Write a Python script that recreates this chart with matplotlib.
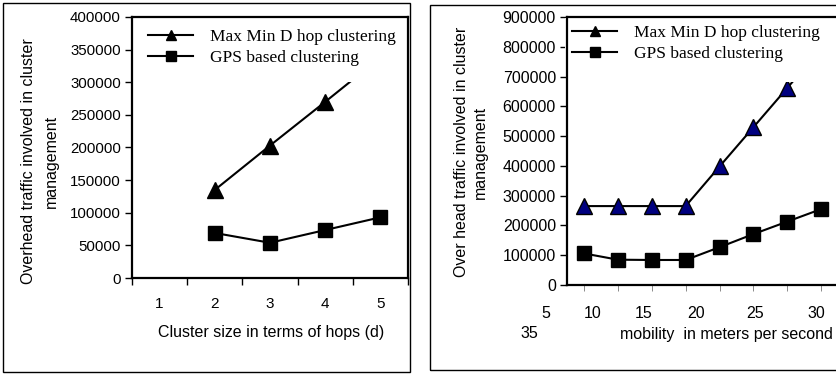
# two excel-style charts: cluster overhead vs hops and vs mobility
import numpy as np
import matplotlib.pyplot as plt
from matplotlib.patches import Rectangle

plt.rcParams['font.family'] = ['Liberation Sans', 'DejaVu Sans']

# left chart data (cluster size in hops)
hops = [1, 2, 3, 4, 5]
hop_maxmin = [np.nan, 135000, 203000, 270000, 338000]
hop_gps = [np.nan, 69000, 54000, 73500, 93000]

# right chart data (mobility categories)
mob_pos = [1, 2, 3, 4, 5, 6, 7, 8]
mob_maxmin = [265000, 265000, 265000, 265000, 398000, 530000, 662000, 795000]
mob_gps = [106000, 85000, 84000, 84000, 127000, 171000, 213000, 255000]

legend_labels = ["Max Min D hop clustering", "GPS based clustering"]
right_xwords = ["5", "10", "15", "20", "25", "30", "35"]

W, H = 836, 377
fig = plt.figure(figsize=(W / 100, H / 100), dpi=100)


def fx(px):
    return px / W


def fy(py):
    return 1 - py / H


# outer frames
fig.patches.append(Rectangle((fx(3), fy(372)), fx(407), (369) / H, transform=fig.transFigure,
                             fill=False, edgecolor='black', linewidth=1.0))
fig.patches.append(Rectangle((fx(430), fy(370)), fx(420), (365) / H, transform=fig.transFigure,
                             fill=False, edgecolor='black', linewidth=1.0))

serif = ['Liberation Serif', 'DejaVu Serif']
leg_kw = dict(loc='upper left', prop={'family': serif, 'size': 12.5}, frameon=True,
              facecolor='white', edgecolor='none', framealpha=1, handlelength=2.6,
              handletextpad=1.0, markerscale=0.7, borderpad=0.4, labelspacing=0.3,
              borderaxespad=0, fancybox=False)

# ---- left chart
ax1 = fig.add_axes([fx(132), fy(278), fx(276), (278 - 17) / H])
ax1.plot(hops, hop_maxmin, color='black', lw=1.5, marker='^', ms=11,
         mfc='black', mec='black', label=legend_labels[0])
ax1.plot(hops, hop_gps, color='black', lw=1.5, marker='s', ms=10,
         mfc='black', mec='black', label=legend_labels[1])
ax1.set_xlim(0.5, 5.5)
ax1.set_ylim(0, 400000)
ax1.set_yticks(np.arange(0, 400001, 50000))
ax1.set_xticks(np.arange(0.5, 5.6, 1))
ax1.set_xticklabels([])
ax1.set_xticks(hops, minor=True)
ax1.set_xticklabels([str(h) for h in hops], minor=True)
ax1.tick_params(axis='x', which='minor', length=0, pad=14, labelsize=11)
ax1.tick_params(axis='x', which='major', length=5, width=1, direction='out')
ax1.tick_params(axis='y', length=5, width=1, direction='out', labelsize=10.8, pad=3)
for s in ax1.spines.values():
    s.set_linewidth(1.6)
# white legend area hides the top of the line, as in the original
ax1.add_patch(Rectangle((0, 0.751), 0.97, 0.249, transform=ax1.transAxes,
                        facecolor='white', edgecolor='none', zorder=2.2))
leg1 = ax1.legend(bbox_to_anchor=(9 / 276, 1 - 5 / 261), **leg_kw)
leg1.set_zorder(2.3)

fig.text(fx(40), fy(161), "Overhead traffic involved in cluster\nmanagement", rotation=90,
         ha='center', va='center', multialignment='center', fontsize=11.5, linespacing=1.6)
fig.text(fx(271), fy(332), "Cluster size in terms of hops (d)", ha='center', va='center',
         fontsize=11.5)

# ---- right chart
ax2 = fig.add_axes([fx(567), fy(285), fx(276), (285 - 17) / H])
ax2.plot(mob_pos, mob_maxmin, color='black', lw=1.5, marker='^', ms=11,
         mfc='#000080', mec='black', label=legend_labels[0])
ax2.plot(mob_pos, mob_gps, color='black', lw=1.5, marker='s', ms=10,
         mfc='black', mec='black', label=legend_labels[1])
ax2.set_xlim(0.5, 0.5 + 276 / 33.9)
ax2.set_ylim(0, 900000)
ax2.set_yticks(np.arange(0, 900001, 100000))
ax2.set_xticks(mob_pos)
ax2.set_xticklabels([])
ax2.tick_params(axis='x', length=4, width=0.6, direction='out', color='#777777')
ax2.tick_params(axis='y', length=5, width=1, direction='out', labelsize=11.5, pad=3)
for s in ax2.spines.values():
    s.set_linewidth(1.6)
ax2.add_patch(Rectangle((0, 0.757), 1.0, 0.243, transform=ax2.transAxes,
                        facecolor='white', edgecolor='none', zorder=2.2))
leg2 = ax2.legend(bbox_to_anchor=(-2 / 276, 1 - 1 / 268), **leg_kw)
leg2.set_zorder(2.3)
leg2.legend_handles[0].set_markerfacecolor('black')

fig.text(fx(471), fy(152), "Over head traffic involved in cluster\nmanagement", rotation=90,
         ha='center', va='center', multialignment='center', fontsize=11.5, linespacing=1.4)

word_px = [(546, 313), (593, 313), (644, 313), (696, 313), (755, 313), (816, 313), (529, 334)]
for w, (px, py) in zip(right_xwords, word_px):
    fig.text(fx(px), fy(py), w, ha='center', va='center', fontsize=11.5)
fig.text(fx(620), fy(334), "mobility  in meters per second", ha='left', va='center',
         fontsize=11.5)

fig.savefig('out.png', dpi=100)
